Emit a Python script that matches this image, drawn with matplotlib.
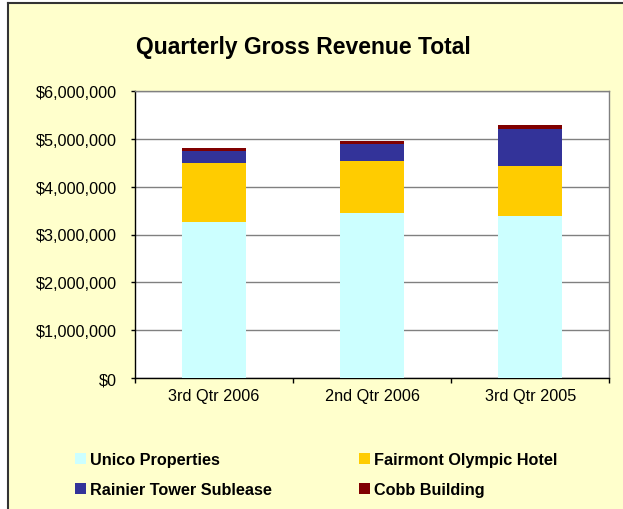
import matplotlib
matplotlib.use("Agg")
import matplotlib.pyplot as plt
from matplotlib.patches import Rectangle, Patch
from matplotlib.lines import Line2D
from matplotlib.ticker import FuncFormatter
import numpy as np

categories = ["3rd Qtr 2006", "2nd Qtr 2006", "3rd Qtr 2005"]
series_names = ["Unico Properties", "Fairmont Olympic Hotel", "Rainier Tower Sublease", "Cobb Building"]
unico = [3260000, 3450000, 3385000]
fairmont = [1238000, 1084000, 1045000]
rainier = [238000, 348000, 778000]
cobb = [64000, 69000, 77000]
series_values = [unico, fairmont, rainier, cobb]
colors = ["#CCFFFF", "#FFCC00", "#333399", "#800000"]
yticks = [0, 1000000, 2000000, 3000000, 4000000, 5000000, 6000000]
title = "Quarterly Gross Revenue Total"

W, H = 623, 510
plt.rcParams["font.family"] = ["Liberation Sans", "DejaVu Sans"]
fig = plt.figure(figsize=(W / 100, H / 100), dpi=100, facecolor="white")

def fx(px):
    return px / W

def fy(py):
    return 1 - py / H

# chart area background + border (top and left visible)
fig.patches.append(Rectangle((fx(8.3), 0), 1 - fx(8.3), fy(4.3), transform=fig.transFigure,
                             facecolor="#FFFFCC", edgecolor="none", zorder=-2))
fig.lines.append(Line2D([fx(8.3), 1], [fy(4.3), fy(4.3)], transform=fig.transFigure,
                        color="#333333", lw=1.5, zorder=-1))
fig.lines.append(Line2D([fx(8.3), fx(8.3)], [0, fy(4.3)], transform=fig.transFigure,
                        color="#333333", lw=1.5, zorder=-1))

ax = fig.add_axes([fx(135), fy(379.3), fx(609.3) - fx(135), fy(91.7) - fy(379.3)])
ax.set_facecolor("white")

x = np.arange(len(categories))
bottom = np.zeros(len(categories))
handles = []
for name, vals, c in zip(series_names, series_values, colors):
    ax.bar(x, vals, width=0.405, bottom=bottom, color=c, edgecolor="none", zorder=3)
    bottom = bottom + np.array(vals)
    handles.append(Patch(facecolor=c, edgecolor="none", label=name))

ax.set_xlim(-0.5, len(categories) - 0.5)
ax.set_ylim(yticks[0], yticks[-1])
ax.set_yticks(yticks)
ax.yaxis.set_major_formatter(FuncFormatter(lambda v, p: "${:,.0f}".format(v)))
ax.grid(axis="y", color="#808080", lw=1, zorder=1)
ax.set_axisbelow(True)

ax.set_xticks(x)
ax.set_xticklabels(categories)
ax.set_xticks(np.arange(-0.5, len(categories)), minor=True)
ax.tick_params(axis="x", which="major", length=0, pad=7, labelsize=11.7)
ax.tick_params(axis="x", which="minor", length=3.6, width=1, direction="out", color="black")
ax.tick_params(axis="y", length=3.2, width=1, direction="out", pad=9.6, labelsize=11.7, color="black")

for s in ["left", "bottom"]:
    ax.spines[s].set_color("black")
    ax.spines[s].set_linewidth(1)
for s in ["top", "right"]:
    ax.spines[s].set_color("#808080")
    ax.spines[s].set_linewidth(1)

fig.text(fx(136), fy(54.3), title, fontsize=16.5, fontweight="bold", ha="left", va="baseline")

order = [0, 2, 1, 3]
leg = fig.legend([handles[i] for i in order], [series_names[i] for i in order],
                 loc="upper left", bbox_to_anchor=(fx(75), fy(453.5)), ncol=2,
                 frameon=False, borderpad=0, borderaxespad=0,
                 prop={"size": 11.7, "weight": "bold"},
                 handlelength=0.68, handleheight=0.68, handletextpad=0.25,
                 labelspacing=0.9, columnspacing=5.37)

fig.savefig("out.png", dpi=100, facecolor=fig.get_facecolor())
